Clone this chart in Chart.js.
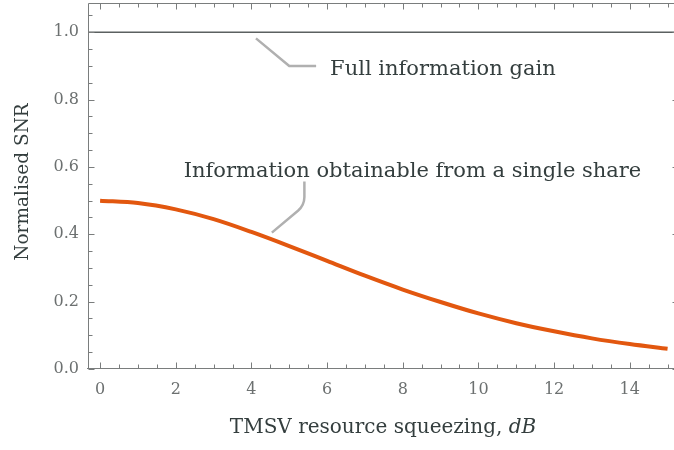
<!DOCTYPE html>
<html>
<head>
<meta charset="utf-8">
<script src="https://cdn.jsdelivr.net/npm/chart.js@4/dist/chart.umd.min.js"></script>
<style>
  html, body { margin: 0; padding: 0; background: #ffffff; }
  #wrap { width: 674px; height: 450px; }
</style>
</head>
<body>
<div id="wrap"><canvas id="chart" width="674" height="450"></canvas></div>
<script>
// Squeezing of the TMSV resource (dB) and normalised SNR
const squeezingDb = [0, 1, 2, 3, 4, 5, 6, 7, 8, 9, 10, 11, 12, 13, 14, 15];
const singleShareSnr = [0.500, 0.493, 0.474, 0.445, 0.407, 0.365, 0.321, 0.277, 0.236, 0.199, 0.165, 0.136, 0.112, 0.091, 0.074, 0.060];
const fullGainSnr = [1.0, 1.0];
const xTickValues = [0, 2, 4, 6, 8, 10, 12, 14];
const yTickValues = [0.0, 0.2, 0.4, 0.6, 0.8, 1.0];

// visible range; the right side of the frame sits just past the canvas edge
const X_MIN = -0.32, X_MAX = 15.17, X_FRAME_RIGHT = 15.27, Y_MIN = 0, Y_MAX = 1.087;

const SERIF = '"DejaVu Serif", "Liberation Serif", serif';
const TEXT_DARK = '#343e3e';
const TICK_GREY = '#6c7070';
const FRAME_GREY = '#7a7d7d';
const LEADER_GREY = '#b0b0b0';

// Boxed frame with inward major/minor ticks on every side
const framePlugin = {
  id: 'frame',
  afterDraw(chart) {
    const { ctx, chartArea: a, scales: { x, y } } = chart;
    const left = Math.round(a.left) + 0.5;
    const top = Math.round(a.top) + 0.5;
    const bottom = Math.round(a.bottom) - 0.5;
    const right = Math.round(x.getPixelForValue(X_FRAME_RIGHT)) + 0.5;
    ctx.save();
    ctx.strokeStyle = FRAME_GREY;
    ctx.lineWidth = 1;
    ctx.beginPath();
    ctx.moveTo(left - 1.5, bottom); ctx.lineTo(right, bottom);
    ctx.moveTo(left, bottom); ctx.lineTo(left, top); ctx.lineTo(right, top);
    ctx.lineTo(right, bottom);
    for (let v = 0; v <= X_FRAME_RIGHT + 1e-9; v += 0.5) {
      const px = Math.round(x.getPixelForValue(v)) + 0.5;
      const len = Math.abs(v % 2) < 1e-9 ? 6 : 4;
      ctx.moveTo(px, bottom); ctx.lineTo(px, bottom - len);
      ctx.moveTo(px, top); ctx.lineTo(px, top + len);
    }
    for (let v = 0; v <= Y_MAX + 1e-9; v += 0.05) {
      const py = Math.round(y.getPixelForValue(v)) + 0.5;
      const major = Math.abs((v / 0.2) - Math.round(v / 0.2)) < 1e-6;
      const len = major ? 6 : 4;
      ctx.moveTo(left, py); ctx.lineTo(left + len, py);
      ctx.moveTo(right, py); ctx.lineTo(right - len, py);
    }
    ctx.stroke();
    ctx.restore();
  }
};

// Axis titles and curve labels with their leader lines
const labelPlugin = {
  id: 'labels',
  afterDraw(chart) {
    const { ctx, scales: { x, y } } = chart;
    const px = v => x.getPixelForValue(v);
    const py = v => y.getPixelForValue(v);
    ctx.save();

    // leaders
    ctx.strokeStyle = LEADER_GREY;
    ctx.lineWidth = 2.5;
    ctx.lineCap = 'butt';
    ctx.lineJoin = 'round';
    ctx.beginPath();
    ctx.moveTo(px(4.12), py(0.982));
    ctx.lineTo(px(5.00), py(0.900));
    ctx.lineTo(px(5.71), py(0.900));
    ctx.stroke();

    ctx.beginPath();
    ctx.moveTo(px(5.40), py(0.557));
    ctx.lineTo(px(5.40), py(0.511));
    ctx.quadraticCurveTo(px(5.40), py(0.487), px(5.23), py(0.470));
    ctx.lineTo(px(4.54), py(0.405));
    ctx.stroke();

    // curve labels
    ctx.fillStyle = TEXT_DARK;
    ctx.font = '21px ' + SERIF;
    ctx.textBaseline = 'alphabetic';
    ctx.textAlign = 'left';
    ctx.fillText('Full information gain', px(6.08), py(0.874));
    ctx.fillText('Information obtainable from a single share', px(2.21), py(0.570));

    // y title
    ctx.save();
    ctx.font = '18.5px ' + SERIF;
    ctx.translate(28, 182);
    ctx.rotate(-Math.PI / 2);
    ctx.textAlign = 'center';
    ctx.fillText('Normalised SNR', 0, 0);
    ctx.restore();

    // x title with italic unit
    const plain = 'TMSV resource squeezing, ';
    const unit = 'dB';
    ctx.font = '20px ' + SERIF;
    const w1 = ctx.measureText(plain).width;
    ctx.font = 'italic 20px ' + SERIF;
    const w2 = ctx.measureText(unit).width;
    const startX = 383 - (w1 + w2) / 2;
    const ty = 433;
    ctx.font = '20px ' + SERIF;
    ctx.fillText(plain, startX, ty);
    ctx.font = 'italic 20px ' + SERIF;
    ctx.fillText(unit, startX + w1, ty);

    ctx.restore();
  }
};

new Chart(document.getElementById('chart'), {
  type: 'line',
  data: {
    datasets: [
      {
        label: 'Full information gain',
        data: [X_MIN, X_MAX].map((v, i) => ({ x: v, y: fullGainSnr[i] })),
        borderColor: '#5b6060',
        borderWidth: 1.6,
        pointRadius: 0,
        order: 2
      },
      {
        label: 'Information obtainable from a single share',
        data: squeezingDb.map((v, i) => ({ x: v, y: singleShareSnr[i] })),
        borderColor: '#e2570f',
        borderWidth: 4,
        pointRadius: 0,
        cubicInterpolationMode: 'monotone',
        borderCapStyle: 'butt',
        order: 1
      }
    ]
  },
  options: {
    responsive: false,
    animation: false,
    layout: { padding: { top: 3, right: 0, left: 0, bottom: 0 } },
    plugins: { legend: { display: false }, tooltip: { enabled: false } },
    scales: {
      x: {
        type: 'linear',
        min: X_MIN, max: X_MAX,
        grid: { display: false, drawTicks: false },
        border: { display: false },
        afterFit(s) { s.height = 81; s.paddingLeft = 0; s.paddingRight = 0; },
        afterBuildTicks(s) { s.ticks = xTickValues.map(v => ({ value: v })); },
        ticks: {
          padding: 11,
          color: TICK_GREY,
          font: { family: SERIF, size: 16 },
          maxRotation: 0,
          callback: v => String(v)
        }
      },
      y: {
        type: 'linear',
        min: Y_MIN, max: Y_MAX,
        grid: { display: false, drawTicks: false },
        border: { display: false },
        afterFit(s) { s.width = 88; s.paddingTop = 0; s.paddingBottom = 0; },
        afterBuildTicks(s) { s.ticks = yTickValues.map(v => ({ value: v })); },
        ticks: {
          padding: 9,
          color: TICK_GREY,
          font: { family: SERIF, size: 16 },
          callback: v => v.toFixed(1)
        }
      }
    }
  },
  plugins: [framePlugin, labelPlugin]
});
</script>
</body>
</html>
